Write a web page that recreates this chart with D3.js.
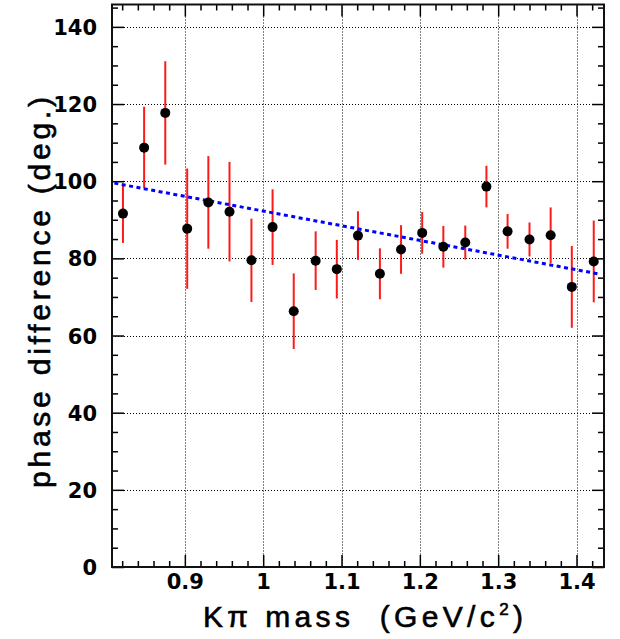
<!DOCTYPE html>
<html>
<head>
<meta charset="utf-8">
<script src="https://cdn.jsdelivr.net/npm/d3@7"></script>
<style>
  body { margin: 0; background: #fff; }
  svg { display: block; }
  .tick text { font-family: "DejaVu Sans", sans-serif; font-weight: bold; font-size: 21px; fill: #000; }
  .title { font-family: "Liberation Sans", Arial, sans-serif; font-size: 30px; fill: #000; stroke: #000; stroke-width: 0.6px; }
</style>
</head>
<body>
<svg id="chart" width="620" height="639"></svg>
<script>
// K-pi mass bin centres (GeV/c^2)
var massBins = [0.821, 0.848, 0.875, 0.903, 0.930, 0.957, 0.985, 1.012, 1.039, 1.067, 1.094, 1.121,
                1.149, 1.176, 1.203, 1.230, 1.258, 1.285, 1.312, 1.340, 1.367, 1.394, 1.422];
// phase difference (deg.)
var phaseDiff = [91.6, 108.7, 117.7, 87.7, 94.5, 92.1, 79.5, 88.1, 66.3, 79.4, 77.2, 85.9,
                 76.0, 82.3, 86.6, 83.0, 84.1, 98.6, 87.0, 84.9, 86.0, 72.6, 79.2];
var phaseErr = [7.6, 10.6, 13.4, 15.6, 12.0, 12.9, 10.8, 9.8, 9.8, 7.6, 7.6, 6.3,
                6.6, 6.3, 5.4, 5.4, 4.4, 5.4, 4.5, 4.4, 7.2, 10.6, 10.6];
// linear fit end points
var fitMass = [0.81, 1.43];
var fitPhase = [99.5, 75.9];

var xMajor = [0.9, 1.0, 1.1, 1.2, 1.3, 1.4];
var xLabels = ["0.9", "1", "1.1", "1.2", "1.3", "1.4"];
var xMinor = [0.82, 0.84, 0.86, 0.88, 0.92, 0.94, 0.96, 0.98, 1.02, 1.04, 1.06, 1.08, 1.12, 1.14, 1.16, 1.18,
              1.22, 1.24, 1.26, 1.28, 1.32, 1.34, 1.36, 1.38, 1.42];
var yMajor = [0, 20, 40, 60, 80, 100, 120, 140];
var yMinor = [5, 10, 15, 25, 30, 35, 45, 50, 55, 65, 70, 75, 85, 90, 95, 105, 110, 115, 125, 130, 135, 145];

var padLeft = 112, padRight = 604, padTop = 4.5, padBottom = 567;

var svg = d3.select("#chart");

var x = d3.scaleLinear().domain([0.807, 1.4351]).range([padLeft, padRight]);
var y = d3.scaleLinear().domain([0, 145.8]).range([padBottom, padTop]);

// grid
var grid = svg.append("g")
  .attr("stroke", "#000")
  .attr("stroke-width", 1)
  .attr("stroke-dasharray", "1,2");
grid.selectAll(".gx")
  .data(xMajor)
  .join("line")
  .attr("class", "gx")
  .attr("x1", d => Math.round(x(d)) + 0.5)
  .attr("x2", d => Math.round(x(d)) + 0.5)
  .attr("y1", padTop)
  .attr("y2", padBottom);
grid.selectAll(".gy")
  .data(yMajor.filter(d => d > 0))
  .join("line")
  .attr("class", "gy")
  .attr("x1", padLeft)
  .attr("x2", padRight)
  .attr("y1", d => Math.round(y(d)) + 0.5)
  .attr("y2", d => Math.round(y(d)) + 0.5);

// axes: major ticks with labels, minor ticks without
function styleAxis(g) {
  g.select(".domain").remove();
  g.selectAll(".tick line").attr("stroke", "#000").attr("stroke-width", 1.5);
}

svg.append("g")
  .attr("transform", "translate(" + padLeft + ",0)")
  .call(d3.axisLeft(y).tickValues(yMajor).tickFormat(d3.format("d")).tickSize(-12).tickPadding(15))
  .call(styleAxis)
  .selectAll("text").attr("dy", "0.36em");
svg.append("g")
  .attr("transform", "translate(" + padLeft + ",0)")
  .call(d3.axisLeft(y).tickValues(yMinor).tickFormat("").tickSize(-6))
  .call(styleAxis);
svg.append("g")
  .attr("transform", "translate(" + padRight + ",0)")
  .call(d3.axisRight(y).tickValues(yMajor).tickFormat("").tickSize(-12))
  .call(styleAxis);
svg.append("g")
  .attr("transform", "translate(" + padRight + ",0)")
  .call(d3.axisRight(y).tickValues(yMinor).tickFormat("").tickSize(-6))
  .call(styleAxis);

svg.append("g")
  .attr("transform", "translate(0," + padBottom + ")")
  .call(d3.axisBottom(x).tickValues(xMajor).tickFormat((d, i) => xLabels[i]).tickSize(-12).tickPadding(7))
  .call(styleAxis);
svg.append("g")
  .attr("transform", "translate(0," + padBottom + ")")
  .call(d3.axisBottom(x).tickValues(xMinor).tickFormat("").tickSize(-6))
  .call(styleAxis);
svg.append("g")
  .attr("transform", "translate(0," + padTop + ")")
  .call(d3.axisTop(x).tickValues(xMajor).tickFormat("").tickSize(-12))
  .call(styleAxis);
svg.append("g")
  .attr("transform", "translate(0," + padTop + ")")
  .call(d3.axisTop(x).tickValues(xMinor).tickFormat("").tickSize(-6))
  .call(styleAxis);

// frame
svg.append("rect")
  .attr("x", padLeft)
  .attr("y", padTop)
  .attr("width", padRight - padLeft)
  .attr("height", padBottom - padTop)
  .attr("fill", "none")
  .attr("stroke", "#111")
  .attr("stroke-width", 2);

// error bars
svg.append("g")
  .selectAll("line")
  .data(massBins)
  .join("line")
  .attr("x1", d => x(d))
  .attr("x2", d => x(d))
  .attr("y1", (d, i) => y(phaseDiff[i] - phaseErr[i]))
  .attr("y2", (d, i) => y(phaseDiff[i] + phaseErr[i]))
  .attr("stroke", "#ff1a1a")
  .attr("stroke-width", 2);

// fit line
svg.append("line")
  .attr("x1", x(fitMass[0]))
  .attr("y1", y(fitPhase[0]))
  .attr("x2", x(fitMass[1]))
  .attr("y2", y(fitPhase[1]))
  .attr("stroke", "#0000ff")
  .attr("stroke-width", 3)
  .attr("stroke-dasharray", "4,3.5");

// points
svg.append("g")
  .selectAll("circle")
  .data(massBins)
  .join("circle")
  .attr("cx", d => x(d))
  .attr("cy", (d, i) => y(phaseDiff[i]))
  .attr("r", 5)
  .attr("fill", "#000");

// axis titles
var xt = svg.append("text")
  .attr("class", "title")
  .attr("x", 203)
  .attr("y", 627)
  .attr("textLength", 320)
  .attr("lengthAdjust", "spacing");
xt.append("tspan").text("K\u03c0 mass \u00a0(GeV/c");
xt.append("tspan").attr("font-size", "17px").attr("dy", -12).text("2");
xt.append("tspan").attr("dy", 12).text(")");

svg.append("text")
  .attr("class", "title")
  .attr("transform", "translate(50,488) rotate(-90)")
  .attr("textLength", 391)
  .attr("lengthAdjust", "spacing")
  .text("phase difference (deg.)");
</script>
</body>
</html>
